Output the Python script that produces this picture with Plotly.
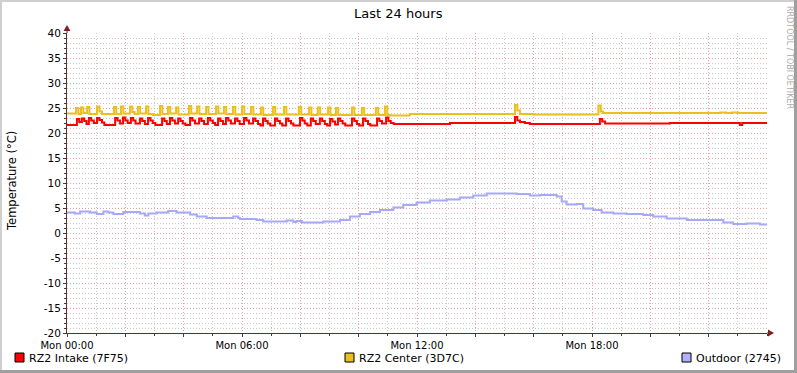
import plotly.graph_objects as go

# ---------------- data (hours since Mon 00:00, degrees C) ----------------
red_t = [0.00, 0.34, 0.42, 0.51, 0.59, 0.67, 0.75, 0.83, 0.92, 1.03, 1.11, 1.20, 1.28,
         1.65, 1.73, 1.82, 1.92, 2.00, 2.08, 2.19, 2.27, 2.35, 2.50, 2.58, 2.67,
         2.78, 2.86, 2.94, 3.03, 3.26, 3.34, 3.42, 3.53, 3.61, 3.70, 3.81, 3.89, 3.97, 4.06,
         4.22, 4.30, 4.39, 4.53, 4.61, 4.70, 4.83, 4.91, 5.00, 5.08, 5.18, 5.26, 5.35,
         5.45, 5.53, 5.62, 5.76, 5.84, 5.92, 6.07, 6.15, 6.24, 6.38, 6.46, 6.55, 6.63,
         6.72, 6.80, 6.88, 6.97, 7.13, 7.21, 7.30, 7.38, 7.51, 7.59, 7.68, 7.76,
         7.99, 8.07, 8.15, 8.24, 8.36, 8.44, 8.53, 8.67, 8.75, 8.84, 8.92,
         9.02, 9.10, 9.19, 9.29, 9.37, 9.45, 9.54, 9.77, 9.85, 9.94, 10.02,
         10.15, 10.23, 10.32, 10.40, 10.63, 10.71, 10.80, 10.94, 11.02, 11.10, 11.20,
         13.13, 15.36, 15.44, 15.53, 15.70, 15.87, 18.27, 18.35, 18.45, 20.67,
         23.07, 23.15, 24.00]
red_v = [21.6, 22.8, 22.2, 22.9, 22.4, 21.8, 23.0, 22.5, 22.0, 23.0, 22.6, 22.1, 21.6,
         23.0, 22.5, 21.9, 23.1, 22.5, 22.0, 23.0, 22.5, 21.9, 22.9, 22.4, 21.8,
         23.0, 22.5, 22.0, 21.6, 22.9, 22.4, 21.8, 23.0, 22.5, 21.9, 22.9, 22.4, 21.9, 21.6,
         23.0, 22.5, 21.9, 22.9, 22.4, 21.8, 23.0, 22.5, 22.0, 21.6, 22.9, 22.4, 21.8,
         23.0, 22.5, 21.9, 22.9, 22.4, 21.8, 23.0, 22.5, 21.9, 22.9, 22.4, 21.8, 21.5,
         22.9, 22.4, 21.9, 21.5, 22.9, 22.4, 21.9, 21.5, 22.9, 22.4, 21.9, 21.5,
         23.0, 22.5, 21.9, 21.5, 22.9, 22.4, 21.8, 22.9, 22.4, 21.8, 21.5,
         22.8, 22.3, 21.7, 22.9, 22.4, 21.9, 21.5, 22.9, 22.4, 21.8, 21.5,
         22.9, 22.4, 21.8, 21.5, 22.9, 22.4, 21.9, 23.1, 22.4, 22.0, 21.8,
         22.0, 23.2, 22.5, 22.2, 22.0, 21.8, 22.8, 22.3, 21.9, 22.0,
         21.6, 22.0, 22.0]

yel_t = [0.00, 0.31, 0.39, 0.48, 0.56, 0.69, 0.77, 1.03, 1.11, 1.20,
         1.61, 1.69, 1.85, 1.93, 2.16, 2.24, 2.32, 2.43, 2.51, 2.71, 2.79, 2.95,
         3.19, 3.27, 3.46, 3.54, 3.74, 3.82, 4.18, 4.26, 4.46, 4.54, 4.77, 4.85,
         5.11, 5.19, 5.38, 5.46, 5.69, 5.77, 6.00, 6.08, 6.31, 6.39, 6.65, 6.73,
         7.06, 7.14, 7.44, 7.52, 7.95, 8.03, 8.30, 8.38, 8.60, 8.68, 8.95, 9.03,
         9.22, 9.30, 9.77, 9.85, 10.11, 10.19, 10.59, 10.67, 10.90, 10.98, 11.07,
         11.75, 15.36, 15.44, 15.53, 16.00, 18.22, 18.30, 18.38,
         22.40, 22.60, 22.80, 23.00, 24.00]
yel_v = [23.9, 25.0, 23.8, 25.1, 24.0, 25.2, 23.8, 25.3, 24.3, 23.8,
         25.2, 23.8, 25.3, 23.9, 25.3, 24.2, 23.8, 25.2, 23.9, 25.3, 23.8, 23.6,
         25.4, 23.8, 25.2, 23.9, 25.1, 23.7, 25.4, 23.9, 25.3, 23.8, 25.2, 23.8,
         25.3, 23.9, 25.2, 23.8, 25.2, 23.7, 25.3, 23.8, 25.2, 23.7, 25.1, 23.6,
         25.2, 23.7, 25.2, 23.7, 25.2, 23.7, 25.1, 23.6, 25.1, 23.7, 25.1, 23.6,
         25.0, 23.6, 25.1, 23.6, 25.0, 23.6, 25.0, 23.6, 25.3, 23.6, 23.5,
         23.8, 25.6, 24.5, 23.8, 23.7, 25.5, 24.3, 24.0,
         24.1, 24.0, 24.1, 24.0, 24.0]

blu_t = [0.00, 0.27, 0.45, 0.79, 1.02, 1.25, 1.42, 1.59, 1.93, 2.50, 2.67, 2.79,
         3.07, 3.47, 3.76, 4.22, 4.45, 4.79, 5.70, 5.87, 5.93, 6.50, 6.73, 7.53,
         7.76, 7.87, 8.05, 8.79, 9.36, 9.70, 10.04, 10.39, 10.73, 11.19, 11.53,
         11.99, 12.44, 13.02, 13.47, 13.93, 14.39, 15.42, 15.87, 16.22, 16.79,
         16.96, 17.13, 17.47, 17.70, 18.04, 18.33, 18.73, 19.19, 19.76, 20.10,
         20.56, 21.25, 22.50, 22.84, 23.30, 23.76, 24.00]
blu_v = [4.1, 3.9, 4.3, 4.1, 3.8, 4.3, 4.1, 3.8, 4.2, 3.9, 3.5, 3.9,
         4.1, 4.4, 4.1, 3.7, 3.3, 3.0, 3.3, 3.0, 2.8, 2.6, 2.3, 2.5,
         2.2, 2.4, 2.1, 2.3, 2.6, 3.3, 3.8, 4.2, 4.6, 5.1, 5.6,
         6.1, 6.5, 6.7, 7.1, 7.5, 7.9, 7.8, 7.5, 7.6, 7.3,
         6.3, 5.7, 5.8, 4.9, 4.6, 4.1, 3.9, 3.8, 3.6, 3.3,
         2.9, 2.6, 2.1, 1.8, 1.9, 1.7, 1.7]

x_ticks = [0, 2, 4, 6, 8, 10, 12, 14, 16, 18, 20, 22]
x_labels = ["Mon 00:00", "", "", "Mon 06:00", "", "", "Mon 12:00", "", "", "Mon 18:00", "", ""]
y_ticks = [-20, -15, -10, -5, 0, 5, 10, 15, 20, 25, 30, 35, 40]
y_labels = ["-20", "-15", "-10", "-5", "0", "5", "10", "15", "20", "25", "30", "35", "40"]

series_names = ["RZ2 Intake (7F75)", "RZ2 Center (3D7C)", "Outdoor (2745)"]
series_colors = ["#FF0000", "#ECC01C", "#A8A8F8"]
legend_colors = ["#FF0000", "#ECC01C", "#B0B0FF"]

# ---------------- figure ----------------
W, H = 797, 373
L, R, T, B = 67, 767, 33, 333


def px(x):
    return (x - L) / (R - L)


def py(y):
    return (B - y) / (B - T)


FONT = "DejaVu Sans"
fig = go.Figure()
for t, v, c in [(blu_t, blu_v, series_colors[2]),
                (yel_t, yel_v, series_colors[1]),
                (red_t, red_v, series_colors[0])]:
    fig.add_trace(go.Scatter(x=t, y=v, mode="lines", line=dict(color=c, width=2, shape="hv"),
                             showlegend=False, hoverinfo="skip"))

shapes = []
# frame
shapes.append(dict(type="rect", xref="paper", yref="paper", x0=px(0), x1=px(W), y0=py(0), y1=py(2),
                   fillcolor="#CFCFCF", line=dict(width=0), layer="above"))
shapes.append(dict(type="rect", xref="paper", yref="paper", x0=px(0), x1=px(2), y0=py(0), y1=py(H),
                   fillcolor="#CFCFCF", line=dict(width=0), layer="above"))
shapes.append(dict(type="rect", xref="paper", yref="paper", x0=px(794), x1=px(W), y0=py(0), y1=py(H),
                   fillcolor="#9F9F9F", line=dict(width=0), layer="above"))
shapes.append(dict(type="rect", xref="paper", yref="paper", x0=px(0), x1=px(W), y0=py(370), y1=py(H),
                   fillcolor="#9F9F9F", line=dict(width=0), layer="above"))
# axis extensions and arrows
AX = "#5A3030"
ARR = "#7F1F1F"
shapes.append(dict(type="line", xref="paper", yref="paper", x0=0, x1=0, y0=1, y1=py(29),
                   line=dict(color=AX, width=1)))
shapes.append(dict(type="line", xref="paper", yref="paper", x0=1, x1=px(770), y0=0, y1=0,
                   line=dict(color=AX, width=1)))
shapes.append(dict(type="path", xref="paper", yref="paper",
                   path=f"M {px(67)} {py(25)} L {px(63.5)} {py(31)} L {px(70.5)} {py(31)} Z",
                   fillcolor=ARR, line=dict(color=ARR, width=0)))
shapes.append(dict(type="path", xref="paper", yref="paper",
                   path=f"M {px(774)} {py(333)} L {px(768)} {py(329.5)} L {px(768)} {py(336.5)} Z",
                   fillcolor=ARR, line=dict(color=ARR, width=0)))

annotations = []
annotations.append(dict(text="Last 24 hours", xref="paper", yref="paper", x=px(398), y=py(13),
                        xanchor="center", yanchor="middle", showarrow=False,
                        font=dict(family=FONT, size=13, color="#000000")))
annotations.append(dict(text="Temperature (°C)", xref="paper", yref="paper", x=px(12), y=py(181),
                        xanchor="center", yanchor="middle", showarrow=False, textangle=-90,
                        font=dict(family=FONT, size=11.5, color="#000000")))
annotations.append(dict(text="RRDTOOL / TOBI OETIKER", xref="paper", yref="paper", x=px(789), y=py(57),
                        xanchor="center", yanchor="middle", showarrow=False, textangle=90,
                        font=dict(family=FONT, size=8, color="#ABABAB")))

leg_x = [15, 345, 682]
for x0, name, col in zip(leg_x, series_names, legend_colors):
    shapes.append(dict(type="rect", xref="paper", yref="paper", x0=px(x0), x1=px(x0 + 9),
                       y0=py(353), y1=py(362), fillcolor=col, line=dict(color="#000000", width=1)))
    annotations.append(dict(text=name, xref="paper", yref="paper", x=px(x0 + 12), y=py(358),
                            xanchor="left", yanchor="middle", showarrow=False,
                            font=dict(family=FONT, size=11, color="#000000")))

GRID_DASH = "1px,2px"
fig.update_layout(
    width=W, height=H,
    margin=dict(l=L, r=W - R, t=T, b=H - B, pad=0),
    paper_bgcolor="#FFFFFF", plot_bgcolor="#FFFFFF",
    shapes=shapes, annotations=annotations,
    showlegend=False,
    xaxis=dict(range=[0, 24], tickmode="array", tickvals=x_ticks, ticktext=x_labels,
               showgrid=True, gridcolor="#E8A0A0", griddash=GRID_DASH, gridwidth=1,
               zeroline=False, showline=True, linecolor=AX, linewidth=1,
               ticks="outside", ticklen=3, tickcolor=AX,
               tickfont=dict(family=FONT, size=10, color="#000000"),
               minor=dict(dtick=1, tick0=0, showgrid=True, gridcolor="#C8C8C8", griddash=GRID_DASH,
                          ticks="outside", ticklen=2, tickcolor=AX),
               fixedrange=True),
    yaxis=dict(range=[-20, 40], tickmode="array", tickvals=y_ticks, ticktext=y_labels,
               showgrid=True, gridcolor="#E8A0A0", griddash=GRID_DASH, gridwidth=1,
               zeroline=False, showline=True, linecolor=AX, linewidth=1,
               ticks="outside", ticklen=3, tickcolor=AX,
               tickfont=dict(family=FONT, size=10.5, color="#000000"),
               minor=dict(dtick=1, tick0=0, showgrid=True, gridcolor="#C8C8C8", griddash=GRID_DASH,
                          ticks="outside", ticklen=2, tickcolor=AX),
               fixedrange=True),
)

fig.write_html("out.html", config={"displayModeBar": False, "staticPlot": True},
               post_script="document.body.style.margin='0';document.body.style.overflow='hidden';")
